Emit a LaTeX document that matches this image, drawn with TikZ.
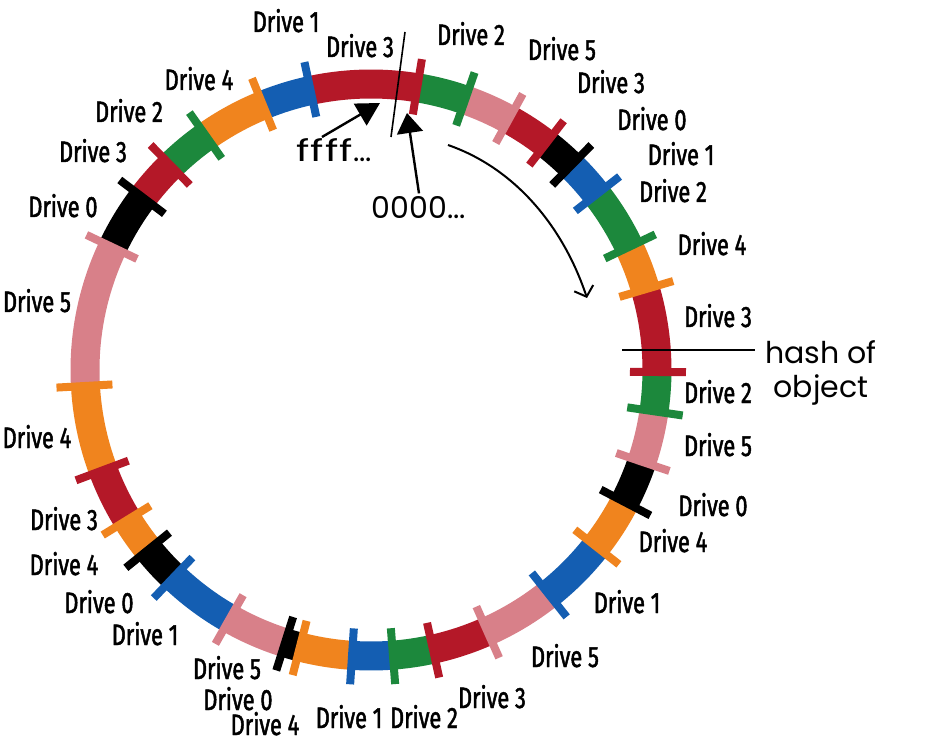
\documentclass[tikz,border=0pt]{standalone}
\usepackage{fontspec}
\usepackage{graphicx}
\setmainfont{Fira Sans}[FakeStretch=0.74,FakeBold=1.6]
\newfontfamily\handfont{Poppins}
\usetikzlibrary{arrows.meta}
\definecolor{cred}{RGB}{180,24,40}
\definecolor{cgreen}{RGB}{28,136,60}
\definecolor{cpink}{RGB}{216,128,137}
\definecolor{cblue}{RGB}{20,94,178}
\definecolor{corange}{RGB}{240,132,30}
\definecolor{cblack}{RGB}{0,0,0}
\begin{document}
\begin{tikzpicture}[x=1pt,y=1pt,
  seg/.style={line width=29pt},
  tickmark/.style={line width=8pt},
  drv/.style={inner sep=0pt, text height=20pt, text depth=0pt, font=\fontsize{29.5}{29.5}\selectfont},
  hand/.style={font=\handfont\fontsize{30}{34}\selectfont},
  pen/.style={line width=2.4pt, black}]
\useasboundingbox (-371,-374) rectangle (555,370);
\fill[white] (-371,-374) rectangle (555,370);
\def\segs{80.7/70.8/cgreen, 70.8/61.2/cpink, 61.2/52.3/cred, 52.3/45.6/cblack,
  45.6/37.9/cblue, 37.9/25.5/cgreen, 25.5/16.4/corange, 16.4/-0.4/cred,
  -0.4/-8.3/cgreen, -8.3/-18.7/cpink, -18.7/-27.5/cblack, -27.5/-38.1/corange,
  -38.1/-51.6/cblue, -51.6/-66.0/cpink, -66.0/-77.5/cred, -77.5/-85.6/cgreen,
  -85.6/-93.8/cblue, -93.8/-104.4/corange, -104.4/-107.5/cblack, -107.5/-119.6/cpink,
  -119.6/-133.6/cblue, -133.6/-141.1/cblack, -141.1/-148.4/corange, -148.4/-159.5/cred,
  -159.5/-176.8/corange, -176.8/-205.4/cpink, -205.4/-217.1/cblack, -217.1/-225.6/cred,
  -225.6/-234.8/cgreen, -234.8/-247.8/corange, -247.8/-257.8/cblue, -257.8/-279.3/cred}
\foreach \a/\b/\c in \segs {
  \draw[seg,draw=\c] (\a:286) arc[start angle=\a, end angle=\b, radius=286];
}
\foreach \a/\b/\c in \segs {
  \draw[tickmark,draw=\c] (\b:259) -- (\b:315);
}
% labels
\node[drv] (l1) at (-85,348) {Drive 1};
\node[drv] (l2) at (-11,323) {Drive 3};
\node[drv] (l3) at (100,335) {Drive 2};
\node[drv] (l4) at (191,320) {Drive 5};
\node[drv] (l5) at (240,287) {Drive 3};
\node[drv] (l6) at (281,250) {Drive 0};
\node[drv] (l7) at (310,215) {Drive 1};
\node[drv] (l8) at (302,178) {Drive 2};
\node[drv] (l9) at (341,125) {Drive 4};
\node[drv] (l10) at (347,53) {Drive 3};
\node[drv] (l11) at (347,-23) {Drive 2};
\node[drv] (l12) at (347,-76) {Drive 5};
\node[drv] (l13) at (342,-136) {Drive 0};
\node[drv] (l14) at (302,-172) {Drive 4};
\node[drv] (l15) at (256,-233) {Drive 1};
\node[drv] (l16) at (194,-287) {Drive 5};
\node[drv] (l17) at (121,-328) {Drive 3};
\node[drv] (l18) at (53,-348) {Drive 2};
\node[drv] (l19) at (-22,-348) {Drive 1};
\node[drv] (l20) at (-106,-355) {Drive 4};
\node[drv] (l21) at (-133,-330) {Drive 0};
\node[drv] (l22) at (-144,-299) {Drive 5};
\node[drv] (l23) at (-226,-265) {Drive 1};
\node[drv] (l24) at (-272,-233) {Drive 0};
\node[drv] (l25) at (-307,-195) {Drive 4};
\node[drv] (l26) at (-307,-150) {Drive 3};
\node[drv] (l27) at (-334,-68) {Drive 4};
\node[drv] (l28) at (-334,68) {Drive 5};
\node[drv] (l29) at (-308,163) {Drive 0};
\node[drv] (l30) at (-278,218) {Drive 3};
\node[drv] (l31) at (-242,258) {Drive 2};
\node[drv] (l32) at (-172,290) {Drive 4};
% boundary line
\coordinate (b1) at (34,338);
\coordinate (b2) at (20,233);
\draw[line width=1.6pt] (b1) -- (b2);
% ffff arrow
\node[hand] (ffff) at (-37,220) {\scalebox{1.35}[1]{\addfontfeature{LetterSpace=3}ffff}...};
\coordinate (fS) at (-49,233);
\coordinate (fT) at (9,267);
\draw[pen, -{Triangle[length=23pt,width=25pt]}] (fS) -- (fT);
% 0000 arrow
\node[hand] (zero) at (48,162) {0000...};
\coordinate (zT) at (36,257);
\draw[pen, -{Triangle[length=20pt,width=26pt]}] (zero.north) -- (zT);
% curved arrow
\coordinate (c1) at (77,225);
\coordinate (c2) at (216,72);
\draw[line width=2pt, -{Straight Barb[length=9pt,width=20pt]}] (c1) .. controls (146,201) and (193,141) .. (c2);
% hash of object
\node[hand, align=center] (hash) at (450,-3) {hash of\\object};
\coordinate (h0) at (251,20);
\draw[line width=2.8pt, shorten >=7pt] (h0) -- (h0 -| hash.west);
\end{tikzpicture}
\end{document}
